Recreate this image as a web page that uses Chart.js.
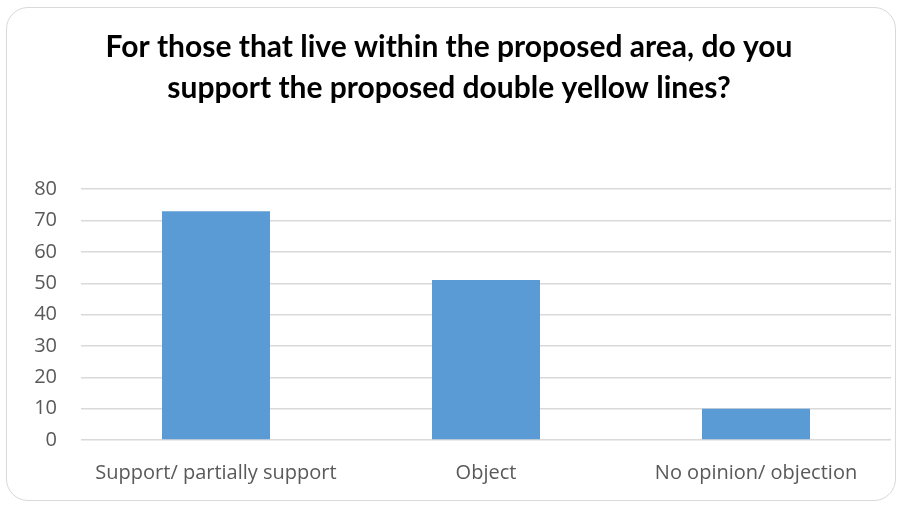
<!DOCTYPE html>
<html>
<head>
<meta charset="utf-8">
<script src="https://cdn.jsdelivr.net/npm/chart.js@4"></script>
<style>
  html, body { margin: 0; padding: 0; background: #fff; }
  #box {
    position: absolute; left: 6px; top: 7px; width: 890px; height: 494px;
    border: 1px solid #d9d9d9; border-radius: 22px; box-sizing: border-box; overflow: hidden;
  }
  #chart { display: block; }
</style>
</head>
<body>
<div id="box"><canvas id="chart" width="888" height="492"></canvas></div>
<script>
// 데이터
const categories = ["Support/ partially support", "Object", "No opinion/ objection"];
const responses = [73, 51, 10];
const yTicks = [0, 10, 20, 30, 40, 50, 60, 70, 80];
const titleLines = ["For those that live within the proposed area, do you", "support the proposed double yellow lines?"];

const ctx = document.getElementById("chart").getContext("2d");
new Chart(ctx, {
  type: "bar",
  data: {
    labels: categories,
    datasets: [{
      data: responses,
      backgroundColor: "#5b9bd5",
      barPercentage: 0.4,
      categoryPercentage: 1
    }]
  },
  options: {
    responsive: false,
    animation: false,
    layout: { padding: { left: 0, right: 4, top: 0, bottom: 0 } },
    plugins: {
      legend: { display: false },
      tooltip: { enabled: false },
      title: {
        display: true,
        text: titleLines,
        color: "#000",
        font: { family: "Lato, 'Open Sans', sans-serif", size: 30, weight: "bold", lineHeight: 1.37 },
        padding: { top: 19, bottom: 80 }
      }
    },
    scales: {
      x: {
        grid: { display: false },
        border: { display: false },
        afterFit: axis => { axis.height = 60; },
        ticks: { color: "#595959", font: { family: "'Open Sans', sans-serif", size: 20 }, padding: 13 }
      },
      y: {
        min: yTicks[0],
        max: yTicks[yTicks.length - 1],
        afterBuildTicks: axis => { axis.ticks = yTicks.map(v => ({ value: v })); },
        afterFit: axis => { axis.width = 74; },
        grid: { color: "#d9d9d9", lineWidth: 1.5, drawTicks: false },
        border: { display: false },
        ticks: { color: "#595959", font: { family: "'Open Sans', sans-serif", size: 20 }, padding: 24 }
      }
    }
  }
});
</script>
</body>
</html>
